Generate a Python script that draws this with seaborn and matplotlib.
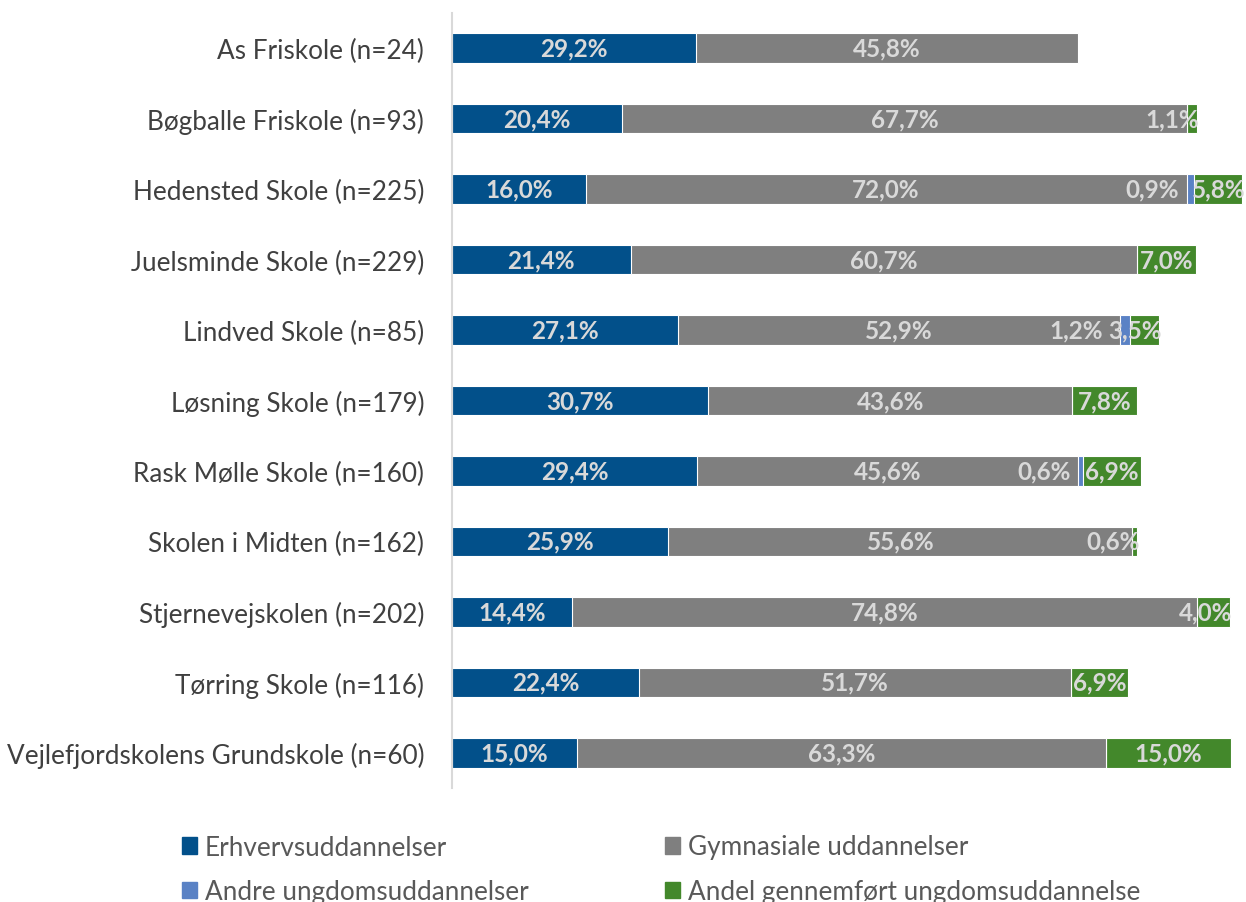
import numpy as np
import pandas as pd
import matplotlib.pyplot as plt
import seaborn as sns
from matplotlib.patches import Patch

schools = ["As Friskole (n=24)", "Bøgballe Friskole (n=93)", "Hedensted Skole (n=225)",
           "Juelsminde Skole (n=229)", "Lindved Skole (n=85)", "Løsning Skole (n=179)",
           "Rask Mølle Skole (n=160)", "Skolen i Midten (n=162)", "Stjernevejskolen (n=202)",
           "Tørring Skole (n=116)", "Vejlefjordskolens Grundskole (n=60)"]
erhverv = [29.2, 20.4, 16.0, 21.4, 27.1, 30.7, 29.4, 25.9, 14.4, 22.4, 15.0]
gymnasiale = [45.8, 67.7, 72.0, 60.7, 52.9, 43.6, 45.6, 55.6, 74.8, 51.7, 63.3]
andre = [0.0, 0.0, 0.9, 0.0, 1.2, 0.0, 0.6, 0.0, 0.0, 0.0, 0.0]
gennemfoert = [0.0, 1.1, 5.8, 7.0, 3.5, 7.8, 6.9, 0.6, 4.0, 6.9, 15.0]

series = ["Erhvervsuddannelser", "Gymnasiale uddannelser",
          "Andre ungdomsuddannelser", "Andel gennemført ungdomsuddannelse"]
colors = ["#02508a", "#7f7f7f", "#5a82c5", "#43882b"]

sns.set_style("white")
plt.rcParams["font.family"] = ["Lato", "DejaVu Sans"]

df = pd.DataFrame({"skole": schools, "e": erhverv, "g": gymnasiale,
                   "a": andre, "n": gennemfoert})
df["c1"] = df["e"]
df["c2"] = df["c1"] + df["g"]
df["c3"] = df["c2"] + df["a"]
df["c4"] = df["c3"] + df["n"]

fig = plt.figure(figsize=(12.46, 9.03), dpi=100)
ax = fig.add_axes([452 / 1246, 1 - 789 / 903, (1245 - 452) / 1246, 775 / 903])

# cumulative overlay -> stacked look
for col, c in zip(["c4", "c3", "c2", "c1"], colors[::-1]):
    sns.barplot(data=df, x=col, y="skole", order=schools, color=c, width=0.42,
                edgecolor="white", linewidth=0.8, saturation=1, ax=ax)

ax.set_xlim(0, 95)
ax.set_ylim(10.5, -0.5)
ax.set_xlabel("")
ax.set_ylabel("")
ax.set_xticks([])
for s in ["top", "right", "bottom"]:
    ax.spines[s].set_visible(False)
ax.spines["left"].set_color("#d9d9d9")
ax.spines["left"].set_linewidth(1.5)
ax.tick_params(axis="y", length=0, pad=20, labelsize=18.8, labelcolor="#404040")

lab_kw = dict(color="#d9d9d9", fontsize=17.5, fontweight="bold", va="center")
def fmt(v):
    return f"{v:.1f}%".replace(".", ",")

for i, row in df.iterrows():
    ax.text(row["e"] / 2, i, fmt(row["e"]), ha="center", **lab_kw)
    ax.text(row["c1"] + row["g"] / 2, i, fmt(row["g"]), ha="center", **lab_kw)
    green_left = row["c4"]
    if row["n"] > 0:
        if row["n"] < 5:
            ax.text(row["c4"] + 0.3, i, fmt(row["n"]), ha="right", **lab_kw)
            green_left = row["c4"] + 0.3 - 6.0
        else:
            ax.text(row["c3"] + row["n"] / 2, i, fmt(row["n"]), ha="center", **lab_kw)
            green_left = row["c3"] + row["n"] / 2 - 3.0
    if row["a"] > 0:
        x = min(row["c2"] - 0.9, green_left - 1.0)
        ax.text(x, i, fmt(row["a"]), ha="right", **lab_kw)

handles = [Patch(color=c) for c in colors]
order = [0, 2, 1, 3]
fig.legend([handles[k] for k in order], [series[k] for k in order],
           loc="upper left", bbox_to_anchor=(158 / 1246, 1 - 812 / 903), ncol=2,
           frameon=False, fontsize=18.8, handlelength=0.6, handleheight=0.6,
           handletextpad=0.3, columnspacing=5.2, labelspacing=0.75,
           labelcolor="#595959")

fig.savefig("out.png", dpi=100)
